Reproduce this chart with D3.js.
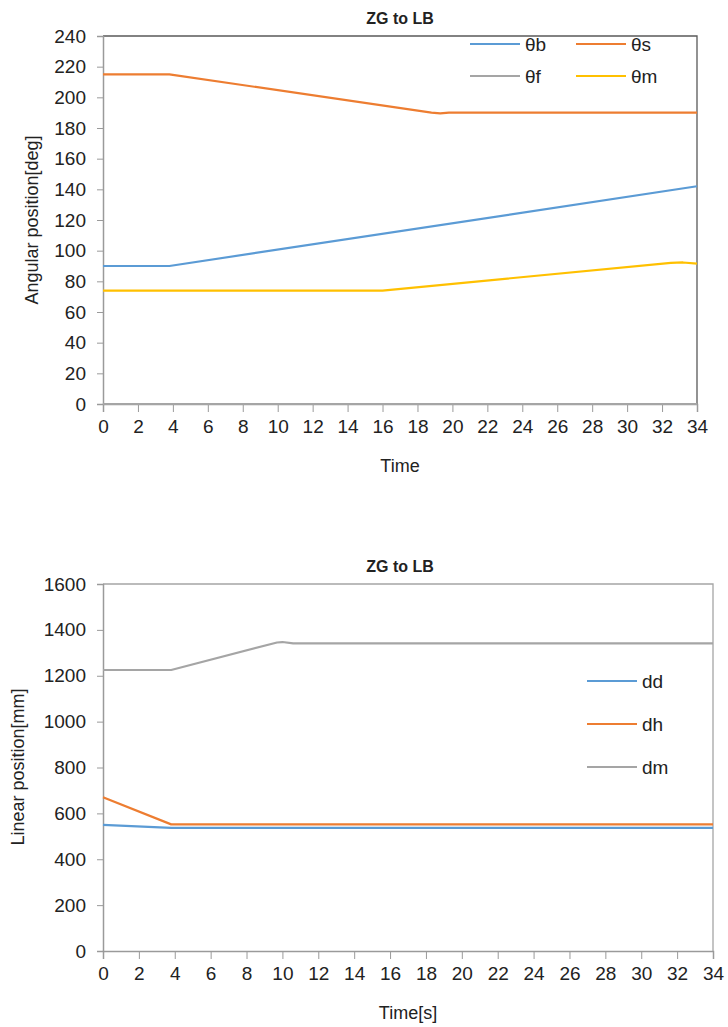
<!DOCTYPE html>
<html>
<head>
<meta charset="utf-8">
<script src="https://cdn.jsdelivr.net/npm/d3@7"></script>
<style>
  body { margin: 0; background: #fff; }
  svg text { font-family: "Liberation Sans Narrow", "Liberation Sans", sans-serif; fill: #222; }
</style>
</head>
<body>
<svg id="chart" width="728" height="1027"></svg>
<script>
// time ticks shared by both charts
const timeTicks = d3.range(0, 35, 2);

// top chart: angular positions [deg]
const angTicks = d3.range(0, 241, 20);
const thetaB = [[0, 90], [3.8, 90], [34, 142]];
const thetaS = [[0, 215], [3.8, 215], [18.8, 190], [19.3, 189.5], [19.8, 190], [34, 190]];
const thetaF = [[0, 0], [34, 0]];
const thetaM = [[0, 74], [16, 74], [32.5, 92], [33.2, 92.3], [34, 91.5]];

// bottom chart: linear positions [mm]
const linTicks = d3.range(0, 1601, 200);
const dD = [[0, 550], [3.8, 537], [34, 537]];
const dH = [[0, 670], [3.8, 552], [34, 552]];
const dM = [[0, 1225], [3.8, 1225], [9.7, 1345], [10.0, 1347], [10.6, 1341], [34, 1341]];

const colors = { blue: "#5B9BD5", orange: "#ED7D31", gray: "#A5A5A5", yellow: "#FFC000" };

const svg = d3.select("#chart");

function drawChart(cfg) {
  const g = svg.append("g");
  const x = d3.scaleLinear().domain([0, 34]).range([cfg.left, cfg.right]);
  const y = d3.scaleLinear().domain([0, cfg.ymax]).range([cfg.bottom, cfg.top]);

  // plot frame (top and right edges)
  g.append("path")
    .attr("d", `M${cfg.left},${cfg.top}H${cfg.right}V${cfg.bottom}`)
    .attr("fill", "none").attr("stroke", cfg.frame).attr("stroke-width", 1.3);

  // y axis
  const yAxis = g.append("g").attr("transform", `translate(${cfg.left},0)`)
    .call(d3.axisLeft(y).tickValues(cfg.yticks).tickFormat(d3.format("d")).tickSize(6).tickPadding(11));
  yAxis.selectAll("text").style("font-size", "19px");

  // x axis
  const xAxis = g.append("g").attr("transform", `translate(0,${cfg.bottom})`)
    .call(d3.axisBottom(x).tickValues(timeTicks).tickSize(8).tickPadding(8));
  xAxis.selectAll("text").style("font-size", "19px");

  [yAxis, xAxis].forEach(a => {
    a.select(".domain").attr("stroke", "#9a9a9a").attr("stroke-width", 1.5);
    a.selectAll(".tick line").attr("stroke", "#9a9a9a");
  });

  const line = d3.line().x(d => x(d[0])).y(d => y(d[1]));

  cfg.series.forEach(s => {
    g.append("path").datum(s.data)
      .attr("d", line)
      .attr("fill", "none")
      .attr("stroke", s.color)
      .attr("stroke-width", 2.2)
      .attr("stroke-linejoin", "round");
  });

  // title
  g.append("text").attr("x", 400).attr("y", cfg.top - 12)
    .attr("text-anchor", "middle").style("font-size", "16px").style("font-weight", "bold")
    .text(cfg.title);

  // axis titles
  g.append("text").attr("x", cfg.xTitle[0]).attr("y", cfg.xTitle[1])
    .attr("text-anchor", "middle").style("font-size", "18px").text(cfg.xLabel);
  g.append("text")
    .attr("transform", `translate(${cfg.yTitle[0]},${cfg.yTitle[1]}) rotate(-90)`)
    .attr("text-anchor", "middle").style("font-size", "18px").text(cfg.yLabel);

  // legend
  cfg.series.forEach((s, i) => {
    const [lx, ly] = cfg.legendPos(i);
    g.append("line").attr("x1", lx).attr("x2", lx + 50).attr("y1", ly).attr("y2", ly)
      .attr("stroke", s.color).attr("stroke-width", 2.2);
    g.append("text").attr("x", lx + 55).attr("y", ly).attr("dy", "0.35em")
      .style("font-size", "19px").text(s.name);
  });
}

drawChart({
  title: "ZG to LB",
  left: 103, right: 697, top: 36, bottom: 404,
  ymax: 240, yticks: angTicks,
  frame: "#595959",
  xLabel: "Time", xTitle: [400, 472],
  yLabel: "Angular position[deg]", yTitle: [38, 220],
  series: [
    { name: "θb", data: thetaB, color: colors.blue },
    { name: "θs", data: thetaS, color: colors.orange },
    { name: "θf", data: thetaF, color: colors.gray },
    { name: "θm", data: thetaM, color: colors.yellow }
  ],
  // two columns, two rows
  legendPos: i => [i % 2 === 0 ? 470 : 576, i < 2 ? 44 : 76]
});

drawChart({
  title: "ZG to LB",
  left: 103, right: 713, top: 584, bottom: 951,
  ymax: 1600, yticks: linTicks,
  frame: "#a5a5a5",
  xLabel: "Time[s]", xTitle: [408, 1019],
  yLabel: "Linear position[mm]", yTitle: [24, 767],
  series: [
    { name: "dd", data: dD, color: colors.blue },
    { name: "dh", data: dH, color: colors.orange },
    { name: "dm", data: dM, color: colors.gray }
  ],
  legendPos: i => [587, 681 + i * 43]
});
</script>
</body>
</html>
